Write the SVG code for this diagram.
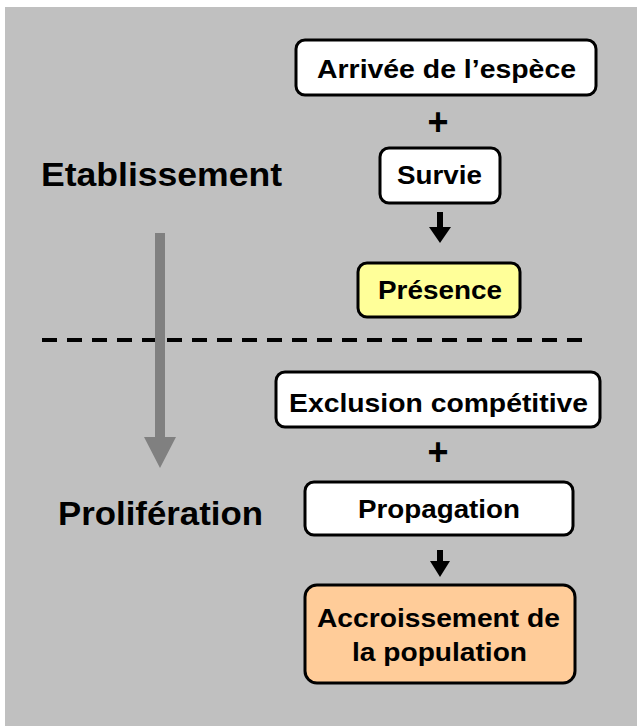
<svg xmlns="http://www.w3.org/2000/svg" width="637" height="726" viewBox="0 0 637 726">
<style>
.box{stroke:#000;stroke-width:3}
.t{font-family:"Liberation Sans",Arial,sans-serif;font-weight:bold;font-size:26px;fill:#000;text-anchor:start}
.lbl{font-family:"Liberation Sans",Arial,sans-serif;font-weight:bold;font-size:34px;fill:#000}
.plus{font-family:"Liberation Sans",Arial,sans-serif;font-weight:bold;font-size:38px;fill:#000;text-anchor:middle}
</style>
<rect x="5" y="7" width="632" height="719" fill="#C0C0C0"/>
<g id="label-etablissement"><text class="lbl" x="41" y="186" textLength="241" lengthAdjust="spacingAndGlyphs">Etablissement</text></g>
<g id="label-proliferation"><text class="lbl" x="58" y="525" textLength="205" lengthAdjust="spacingAndGlyphs">Prolifération</text></g>
<g id="separator"><line x1="42" y1="340" x2="582" y2="340" stroke="#000" stroke-width="4" stroke-dasharray="15 10"/></g>
<g id="connectors">
<polygon points="155,233 165,233 165,437 176,437 160,468 144,437 155,437" fill="#808080"/>
<polygon points="437,212 443,212 443,227 451,227 440,243 429,227 437,227" fill="#000"/>
<polygon points="437,550 443,550 443,561 450,561 440,577 430,561 437,561" fill="#000"/>
<text class="plus" x="438" y="135" textLength="21" lengthAdjust="spacingAndGlyphs">+</text>
<text class="plus" x="438" y="465" textLength="21" lengthAdjust="spacingAndGlyphs">+</text>
</g>
<g id="node-arrivee"><rect class="box" x="296" y="40" width="300" height="55" rx="9" fill="#fff"/><text class="t" x="317" y="78" textLength="259" lengthAdjust="spacingAndGlyphs">Arrivée de l’espèce</text></g>
<g id="node-survie"><rect class="box" x="380" y="148" width="120" height="55" rx="9" fill="#fff"/><text class="t" x="397" y="184" textLength="85" lengthAdjust="spacingAndGlyphs">Survie</text></g>
<g id="node-presence"><rect class="box" x="358" y="263" width="162" height="54" rx="9" fill="#FFFF99"/><text class="t" x="378" y="299" textLength="124" lengthAdjust="spacingAndGlyphs">Présence</text></g>
<g id="node-exclusion"><rect class="box" x="276" y="372" width="324" height="55" rx="9" fill="#fff"/><text class="t" x="289" y="412" textLength="299" lengthAdjust="spacingAndGlyphs">Exclusion compétitive</text></g>
<g id="node-propagation"><rect class="box" x="305" y="482" width="268" height="53" rx="9" fill="#fff"/><text class="t" x="358" y="518" textLength="162" lengthAdjust="spacingAndGlyphs">Propagation</text></g>
<g id="node-accroissement"><rect class="box" x="305" y="585" width="270" height="98" rx="12" fill="#FFCC99"/><text class="t" x="317" y="627" textLength="243" lengthAdjust="spacingAndGlyphs">Accroissement de</text><text class="t" x="352" y="661" textLength="175" lengthAdjust="spacingAndGlyphs">la population</text></g>
</svg>
